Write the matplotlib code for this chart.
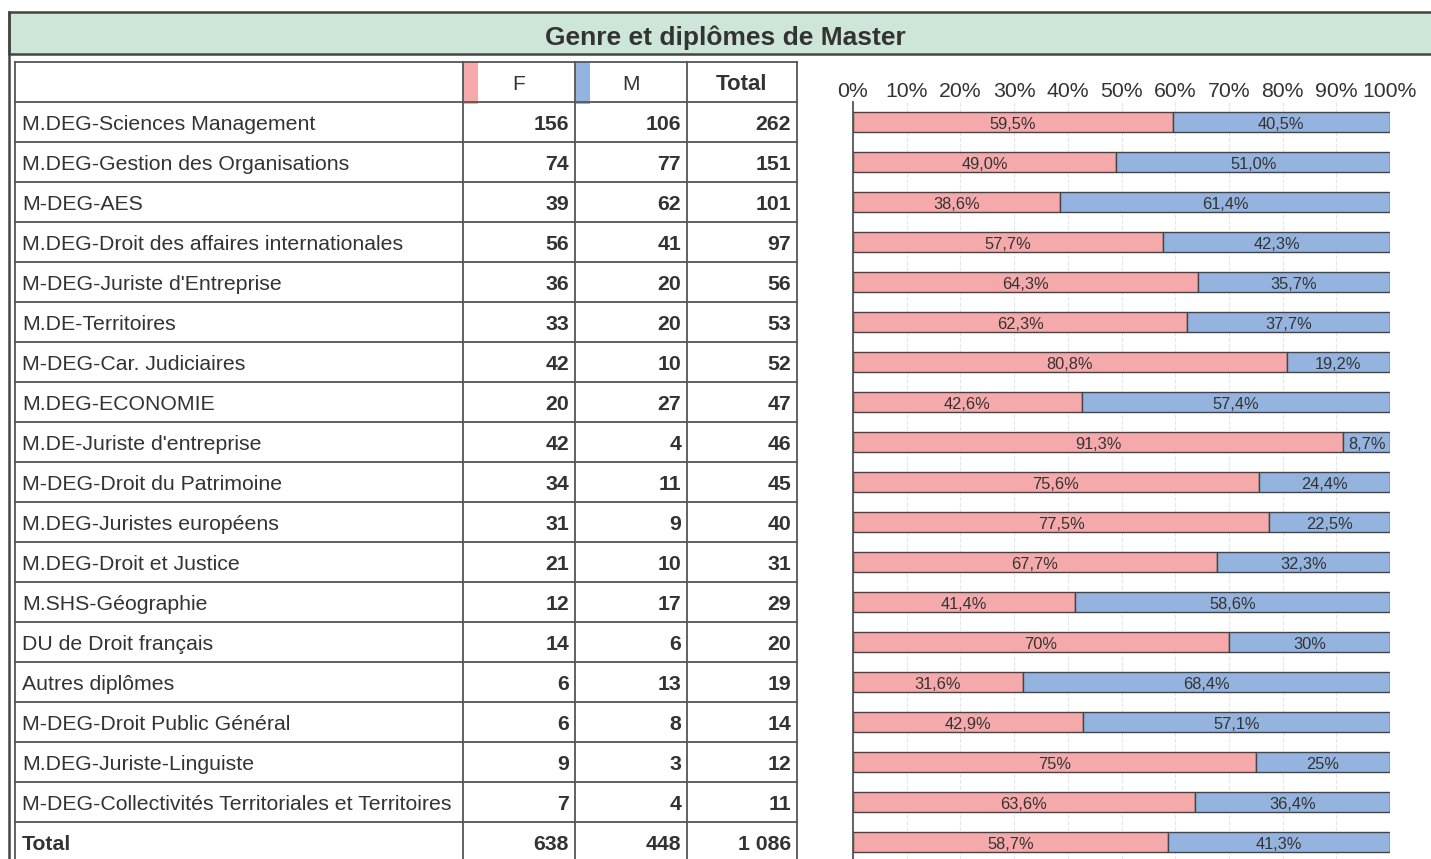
import matplotlib

matplotlib.use("Agg")
import matplotlib.pyplot as plt
from matplotlib.patches import Rectangle

plt.rcParams["font.family"] = ["Liberation Sans", "DejaVu Sans"]

diplomes = [
    "M.DEG-Sciences Management",
    "M.DEG-Gestion des Organisations",
    "M-DEG-AES",
    "M.DEG-Droit des affaires internationales",
    "M-DEG-Juriste d'Entreprise",
    "M.DE-Territoires",
    "M-DEG-Car. Judiciaires",
    "M.DEG-ECONOMIE",
    "M.DE-Juriste d'entreprise",
    "M-DEG-Droit du Patrimoine",
    "M.DEG-Juristes européens",
    "M.DEG-Droit et Justice",
    "M.SHS-Géographie",
    "DU de Droit français",
    "Autres diplômes",
    "M-DEG-Droit Public Général",
    "M.DEG-Juriste-Linguiste",
    "M-DEG-Collectivités Territoriales et Territoires",
    "Total",
]
femmes = [156, 74, 39, 56, 36, 33, 42, 20, 42, 34, 31, 21, 12, 14, 6, 6, 9, 7, 638]
hommes = [106, 77, 62, 41, 20, 20, 10, 27, 4, 11, 9, 10, 17, 6, 13, 8, 3, 4, 448]
totaux = [262, 151, 101, 97, 56, 53, 52, 47, 46, 45, 40, 31, 29, 20, 19, 14, 12, 11, 1086]
ticks_pct = ["0%", "10%", "20%", "30%", "40%", "50%", "60%", "70%", "80%", "90%", "100%"]

ROSE = "#f5a9ab"
BLEU = "#94b3df"
TXT = "#333333"
LINE = "#555555"


def fmt_pct(n, t):
    if (n * 100) % t == 0:
        return f"{n * 100 // t}%"
    return f"{n / t * 100:.1f}%".replace(".", ",")


def fmt_int(v):
    return f"{v:,}".replace(",", " ")


W, H = 1431, 859
fig = plt.figure(figsize=(W / 100, H / 100), dpi=100)
ax = fig.add_axes([0, 0, 1, 1])
ax.set_xlim(0, W)
ax.set_ylim(H, 0)
ax.axis("off")

# bandeau titre
ax.add_patch(Rectangle((9, 12), W, 42, facecolor="#cde6d7", edgecolor="#444444", lw=1.8))
ax.plot([9, 9], [12, H], color="#444444", lw=1.8)
ax.text(725, 38, "Genre et diplômes de Master", ha="center", va="center",
        fontsize=19, fontweight="bold", color=TXT)

# tableau
col_x = [15, 463, 575, 687, 797]
top, hdr_h, row_h = 62, 40, 40
bottom = top + hdr_h + row_h * len(diplomes)
dy = 2  # petit decalage vertical du texte

for x in col_x:
    ax.plot([x, x], [top, bottom], color=LINE, lw=1.3)
ax.plot([col_x[0], col_x[-1]], [top, top], color=LINE, lw=1.3)
for i in range(len(diplomes) + 1):
    y = top + hdr_h + i * row_h
    ax.plot([col_x[0], col_x[-1]], [y, y], color=LINE, lw=1.3)

# en-tetes avec pastilles de couleur
ax.add_patch(Rectangle((col_x[1], top), 15, hdr_h + 2, facecolor=ROSE, edgecolor="none"))
ax.add_patch(Rectangle((col_x[2], top), 15, hdr_h + 2, facecolor=BLEU, edgecolor="none"))
ax.text((col_x[1] + col_x[2]) / 2, top + hdr_h / 2 + dy, "F", ha="center", va="center",
        fontsize=15, color=TXT)
ax.text((col_x[2] + col_x[3]) / 2, top + hdr_h / 2 + dy, "M", ha="center", va="center",
        fontsize=15, color=TXT)
ax.text((col_x[3] + col_x[4]) / 2, top + hdr_h / 2 + dy, "Total", ha="center", va="center",
        fontsize=16, fontweight="bold", color=TXT)

for i, nom in enumerate(diplomes):
    yc = top + hdr_h + i * row_h + row_h / 2 + dy
    bold = nom == "Total"
    ax.text(col_x[0] + 7, yc, nom, ha="left", va="center", fontsize=15.3,
            color=TXT, fontweight="bold" if bold else "normal")
    for j, v in enumerate([femmes[i], hommes[i], totaux[i]]):
        ax.text(col_x[j + 2] - 6, yc, fmt_int(v), ha="right", va="center",
                fontsize=15.3, fontweight="bold", color=TXT)

# barres 100 %
x0, x1 = 853, 1390
bar_top = top + hdr_h
bax = fig.add_axes([x0 / W, 1 - (bar_top + row_h * len(diplomes)) / H,
                    (x1 - x0) / W, row_h * len(diplomes) / H])
n = len(diplomes)
pos = list(range(n))
pf = [f / t * 100 for f, t in zip(femmes, totaux)]
pm = [100 - p for p in pf]
bax.barh(pos, pf, height=0.5, color=ROSE, edgecolor="#444444", lw=1)
bax.barh(pos, pm, left=pf, height=0.5, color=BLEU, edgecolor="#444444", lw=1)
for i in pos:
    bax.text(pf[i] / 2, i + 0.05, fmt_pct(femmes[i], totaux[i]), ha="center", va="center",
             fontsize=11.8, color=TXT)
    bax.text(pf[i] + pm[i] / 2, i + 0.05, fmt_pct(hommes[i], totaux[i]), ha="center",
             va="center", fontsize=11.8, color=TXT)
bax.set_xlim(0, 100)
bax.set_ylim(n - 0.5, -0.5)
bax.set_xticks(range(0, 101, 10))
bax.set_xticklabels(ticks_pct)
bax.xaxis.tick_top()
bax.tick_params(axis="x", length=0, pad=1, labelsize=15.3, labelcolor=TXT)
bax.set_yticks([])
bax.grid(axis="x", color="#e6e6e6", lw=0.8, ls="--")
bax.set_axisbelow(True)
for s in ["top", "right", "bottom"]:
    bax.spines[s].set_visible(False)
bax.spines["left"].set_color(LINE)
bax.spines["left"].set_linewidth(1.3)
bax.patch.set_alpha(0)

fig.savefig("out.png", dpi=100)
